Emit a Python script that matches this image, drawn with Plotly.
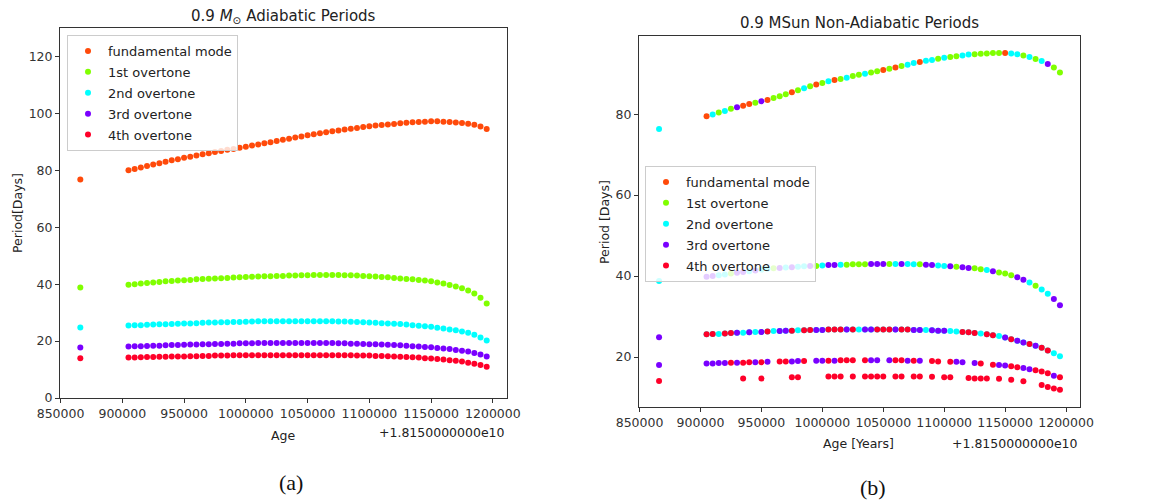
import plotly.graph_objects as go

# ---------------------------------------------------------------- data
AGE_OFFSET_TEXT = "+1.8150000000e10"   # ages below are offsets from 1.815e10 yr

MODE_KEYS = ["F", "1", "2", "3", "4"]
MODE_NAMES = ["fundamental mode", "1st overtone", "2nd overtone", "3rd overtone", "4th overtone"]
MODE_COLORS = ["#ff4a0a", "#80ff00", "#00ffff", "#7a00ff", "#ff0029"]

# first (isolated) model
FIRST_AGE = 866000
ADI_FIRST = [76.8, 38.8, 24.8, 17.7, 14.0]
NONADI_FIRST = [76.3, 38.8, 24.9, 18.0, 14.1]
NONADI_FIRST_MODE = "22334"

# main model sequence
AGES = [905000, 910000, 915000, 920000, 925000, 930000, 935000, 940000, 945000, 950000,
        955000, 960000, 965000, 970000, 975000, 980000, 985000, 990000, 995000, 1000000,
        1005000, 1010000, 1015000, 1020000, 1025000, 1030000, 1035000, 1040000, 1045000, 1050000,
        1055000, 1060000, 1065000, 1070000, 1075000, 1080000, 1085000, 1090000, 1095000, 1100000,
        1105000, 1110000, 1115000, 1120000, 1125000, 1130000, 1135000, 1140000, 1145000, 1150000,
        1155000, 1160000, 1165000, 1170000, 1175000, 1180000, 1185000, 1190000, 1195000]

# adiabatic periods [days]
ADI_F = [80.0, 80.5, 81.0, 81.5, 82.0, 82.5, 83.0, 83.5, 83.9, 84.4,
         84.8, 85.2, 85.6, 86.0, 86.4, 86.8, 87.2, 87.5, 87.9, 88.3,
         88.7, 89.1, 89.5, 89.9, 90.3, 90.7, 91.1, 91.5, 91.9, 92.3,
         92.7, 93.0, 93.4, 93.7, 94.0, 94.3, 94.6, 94.9, 95.2, 95.5,
         95.7, 95.9, 96.1, 96.3, 96.5, 96.7, 96.9, 97.0, 97.1, 97.2,
         97.2, 97.1, 97.0, 96.8, 96.6, 96.4, 96.0, 95.4, 94.5]
ADI_1 = [39.8, 40.0, 40.2, 40.4, 40.6, 40.8, 41.0, 41.1, 41.3, 41.4,
         41.5, 41.7, 41.8, 41.9, 42.0, 42.1, 42.2, 42.3, 42.4, 42.5,
         42.6, 42.7, 42.8, 42.8, 42.9, 42.9, 43.0, 43.0, 43.1, 43.1,
         43.2, 43.2, 43.2, 43.2, 43.2, 43.1, 43.1, 43.0, 42.9, 42.8,
         42.7, 42.5, 42.4, 42.2, 42.0, 41.8, 41.7, 41.5, 41.3, 41.0,
         40.6, 40.2, 39.7, 39.2, 38.6, 37.8, 36.7, 35.2, 33.2]
ADI_2 = [25.5, 25.6, 25.6, 25.7, 25.8, 25.9, 25.9, 26.0, 26.1, 26.2,
         26.2, 26.3, 26.4, 26.5, 26.5, 26.6, 26.6, 26.7, 26.7, 26.8,
         26.9, 27.0, 27.0, 27.0, 27.0, 27.0, 27.0, 27.0, 27.0, 27.0,
         27.0, 27.0, 27.0, 27.0, 26.9, 26.9, 26.8, 26.7, 26.6, 26.5,
         26.4, 26.3, 26.2, 26.1, 26.0, 25.8, 25.6, 25.4, 25.2, 25.0,
         24.7, 24.4, 24.1, 23.8, 23.4, 22.9, 22.2, 21.3, 20.2]
ADI_3 = [18.1, 18.2, 18.2, 18.3, 18.4, 18.4, 18.5, 18.6, 18.6, 18.7,
         18.8, 18.8, 18.9, 18.9, 19.0, 19.0, 19.1, 19.1, 19.2, 19.2,
         19.2, 19.3, 19.3, 19.3, 19.3, 19.3, 19.3, 19.3, 19.3, 19.3,
         19.3, 19.3, 19.3, 19.3, 19.2, 19.2, 19.1, 19.1, 19.0, 18.9,
         18.9, 18.8, 18.7, 18.6, 18.5, 18.4, 18.2, 18.1, 17.9, 17.8,
         17.6, 17.4, 17.2, 16.9, 16.6, 16.3, 15.8, 15.3, 14.6]
ADI_4 = [14.2, 14.2, 14.3, 14.4, 14.4, 14.5, 14.5, 14.6, 14.6, 14.6,
         14.7, 14.7, 14.8, 14.8, 14.9, 14.9, 14.9, 15.0, 15.0, 15.0,
         15.0, 15.0, 15.0, 15.0, 15.0, 15.0, 15.0, 15.0, 15.0, 15.0,
         15.0, 15.0, 15.0, 15.0, 15.0, 15.0, 15.0, 14.9, 14.9, 14.9,
         14.8, 14.8, 14.7, 14.6, 14.5, 14.4, 14.3, 14.2, 14.0, 13.9,
         13.7, 13.5, 13.3, 13.1, 12.8, 12.4, 12.0, 11.6, 11.0]

# non-adiabatic periods [days], grouped by period branch; the *_MODE strings
# give the mode label the solver attached to each point ('-' = no point)
NA_BRANCH_A = [79.5, 79.9, 80.4, 80.8, 81.3, 81.7, 82.1, 82.5, 82.8, 83.2,
               83.5, 84.0, 84.4, 84.9, 85.4, 85.9, 86.4, 86.9, 87.3, 87.7,
               88.1, 88.4, 88.7, 89.0, 89.4, 89.7, 90.0, 90.3, 90.6, 90.9,
               91.2, 91.5, 91.9, 92.2, 92.6, 92.9, 93.2, 93.4, 93.7, 93.9,
               94.1, 94.3, 94.5, 94.7, 94.8, 94.9, 95.0, 95.1, 95.1, 95.1,
               95.0, 94.8, 94.5, 94.1, 93.6, 93.1, 92.4, 91.5, 90.3]
NA_BRANCH_A_MODE = "F21213FF13" "F111F121F1" "2F1211211F" "1F122F2212" "112211111F" "221212311"

NA_BRANCH_B = [39.8, 40.0, 40.2, 40.4, 40.6, 40.8, 41.0, 41.2, 41.4, 41.6,
               41.8, 41.9, 42.0, 42.1, 42.2, 42.3, 42.4, 42.5, 42.5, 42.6,
               42.7, 42.7, 42.8, 42.8, 42.9, 42.9, 42.9, 43.0, 43.0, 43.0,
               43.0, 43.0, 43.0, 43.0, 42.9, 42.9, 42.8, 42.7, 42.6, 42.5,
               42.4, 42.3, 42.2, 42.0, 41.9, 41.7, 41.5, 41.2, 40.9, 40.6,
               40.2, 39.7, 39.1, 38.4, 37.6, 36.7, 35.6, 34.3, 32.8]
NA_BRANCH_B_MODE = "3322133232" "2132322312" "3321111333" "1232213322" "3133112311" "133212233"

NA_BRANCH_C = [25.6, 25.7, 25.7, 25.8, 25.9, 26.0, 26.0, 26.1, 26.2, 26.2,
               26.3, 26.4, 26.4, 26.5, 26.5, 26.6, 26.6, 26.7, 26.7, 26.7,
               26.8, 26.8, 26.8, 26.8, 26.8, 26.8, 26.8, 26.8, 26.8, 26.8,
               26.8, 26.8, 26.8, 26.8, 26.7, 26.7, 26.7, 26.6, 26.5, 26.5,
               26.4, 26.3, 26.2, 26.1, 25.9, 25.8, 25.6, 25.4, 25.2, 24.8,
               24.4, 24.0, 23.6, 23.2, 22.8, 22.3, 21.6, 20.9, 20.2]
# branch C is 2nd overtone throughout; this string marks a coincident 3rd/4th point
NA_BRANCH_C_MODE = "4424432323" "4233424433" "4443423344" "4344332333" "2244424423" "433434422"

NA_BRANCH_D = [18.4, 18.4, 18.5, 18.5, 18.6, 18.6, 18.6, 18.7, 18.7, 18.7,
               18.8, 18.8, 18.9, 18.9, 18.9, 19.0, 19.0, 19.0, 19.1, 19.1,
               19.1, 19.1, 19.2, 19.2, 19.2, 19.2, 19.2, 19.2, 19.2, 19.2,
               19.2, 19.2, 19.2, 19.1, 19.1, 19.1, 19.0, 19.0, 18.9, 18.9,
               18.8, 18.8, 18.7, 18.6, 18.5, 18.4, 18.3, 18.1, 18.0, 17.9,
               17.7, 17.5, 17.3, 17.0, 16.7, 16.4, 16.0, 15.4, 15.0]
NA_BRANCH_D_MODE = "3333434434" "3-44334-33" "43444-433-" "344343-44-" "433-34-433" "443344434"

NA_BRANCH_E_AGES = [935000, 950000, 975000, 980000, 1005000, 1010000, 1015000, 1025000, 1035000, 1040000,
                    1045000, 1050000, 1060000, 1065000, 1075000, 1080000, 1090000, 1100000, 1105000, 1120000,
                    1125000, 1130000, 1135000, 1145000, 1155000, 1165000, 1180000, 1185000, 1190000, 1195000]
NA_BRANCH_E = [14.7, 14.7, 15.0, 15.0, 15.2, 15.2, 15.2, 15.2, 15.2, 15.2,
               15.2, 15.2, 15.2, 15.2, 15.2, 15.2, 15.1, 15.0, 15.0, 14.8,
               14.7, 14.7, 14.7, 14.6, 14.4, 14.0, 13.1, 12.6, 12.2, 11.9]

X_TICKS = [850000, 900000, 950000, 1000000, 1050000, 1100000, 1150000, 1200000]

# ---------------------------------------------------------------- series assembly
adiabatic = [ADI_F, ADI_1, ADI_2, ADI_3, ADI_4]


def nonadiabatic_points(key):
    xs, ys = [], []
    for p, m in zip(NONADI_FIRST, NONADI_FIRST_MODE):
        if m == key:
            xs.append(FIRST_AGE)
            ys.append(p)
    for branch, modes in ((NA_BRANCH_A, NA_BRANCH_A_MODE), (NA_BRANCH_B, NA_BRANCH_B_MODE)):
        for a, p, m in zip(AGES, branch, modes):
            if m == key:
                xs.append(a)
                ys.append(p)
    for a, p, m in zip(AGES, NA_BRANCH_C, NA_BRANCH_C_MODE):
        if key == "2" or m == key:
            xs.append(a)
            ys.append(p)
    for a, p, m in zip(AGES, NA_BRANCH_D, NA_BRANCH_D_MODE):
        if m == key:
            xs.append(a)
            ys.append(p)
    if key == "4":
        xs += NA_BRANCH_E_AGES
        ys += NA_BRANCH_E
    return xs, ys


fig = go.Figure()
MARKER_SIZE = 6

for i, (name, color) in enumerate(zip(MODE_NAMES, MODE_COLORS)):
    fig.add_trace(go.Scatter(
        x=[FIRST_AGE] + AGES, y=[ADI_FIRST[i]] + adiabatic[i],
        mode="markers", name=name, legend="legend", legendgroup=f"adi{i}",
        marker=dict(color=color, size=MARKER_SIZE, line=dict(width=0)),
        xaxis="x", yaxis="y"))

for i, (key, name, color) in enumerate(zip(MODE_KEYS, MODE_NAMES, MODE_COLORS)):
    xs, ys = nonadiabatic_points(key)
    fig.add_trace(go.Scatter(
        x=xs, y=ys, mode="markers", name=name, legend="legend2", legendgroup=f"na{i}",
        marker=dict(color=color, size=MARKER_SIZE, line=dict(width=0)),
        xaxis="x2", yaxis="y2"))

# ---------------------------------------------------------------- layout
W, H = 1172, 504
FONT = "DejaVu Sans"
INK = "#333333"


def px_x(p):
    return p / W


def px_y(p):
    return 1 - p / H


axis_common = dict(showline=True, mirror=True, linecolor=INK, linewidth=1,
                   ticks="outside", ticklen=4, tickcolor=INK, tickwidth=1,
                   showgrid=False, zeroline=False, automargin=False,
                   tickfont=dict(family=FONT, size=12.5, color=INK))

xrange_ = [849550, 1211450]

legend_common = dict(xanchor="left", yanchor="top",
                     bgcolor="rgba(255,255,255,0.8)", bordercolor="#cccccc", borderwidth=1,
                     font=dict(family=FONT, size=13, color="#222222"),
                     itemwidth=30, tracegroupgap=1, itemsizing="trace")

fig.update_layout(
    width=W, height=H, margin=dict(l=0, r=0, t=0, b=0, autoexpand=False),
    paper_bgcolor="white", plot_bgcolor="white",
    font=dict(family=FONT, size=12, color=INK),
    xaxis=dict(domain=[px_x(60), px_x(507)], range=xrange_, tickvals=X_TICKS,
               tickformat="d", anchor="y", **axis_common),
    yaxis=dict(domain=[px_y(398), px_y(28)], range=[0, 130],
               tickvals=[0, 20, 40, 60, 80, 100, 120], anchor="x", **axis_common),
    xaxis2=dict(domain=[px_x(639), px_x(1080)], range=xrange_, tickvals=X_TICKS,
                tickformat="d", anchor="y2", **axis_common),
    yaxis2=dict(domain=[px_y(407), px_y(36)], range=[7.65, 99.3],
                tickvals=[20, 40, 60, 80], anchor="x2", **axis_common),
    legend=dict(x=px_x(67), y=px_y(35), **legend_common),
    legend2=dict(x=px_x(645), y=px_y(166), **legend_common),
    showlegend=True,
)


def label(text, x, y, size=13, xanchor="center", yanchor="middle", angle=0, family=FONT, color="#222222"):
    fig.add_annotation(text=text, x=px_x(x), y=px_y(y), xref="paper", yref="paper",
                       xanchor=xanchor, yanchor=yanchor, textangle=angle, showarrow=False,
                       font=dict(family=family, size=size, color=color))


# titles
label("0.9 <i>M</i><sub>⊙</sub> Adiabatic Periods", 283, 16, size=15)
label("0.9 MSun Non-Adiabatic Periods", 859, 23, size=15)
# axis titles and offset text
label("Age", 283, 435, size=12.5)
label(AGE_OFFSET_TEXT, 507, 432, size=12.5, xanchor="right")
label("Period[Days]", 17, 213, size=12.5, angle=-90)
label("Age [Years]", 858, 443, size=12.5)
label(AGE_OFFSET_TEXT, 1080, 443, size=12.5, xanchor="right")
label("Period [Days]", 604, 222, size=12.5, angle=-90)
# panel tags
label("(a)", 291, 482, size=22, family="Liberation Serif", color="#111111")
label("(b)", 873, 487, size=22, family="Liberation Serif", color="#111111")

fig.write_html("out.html")
